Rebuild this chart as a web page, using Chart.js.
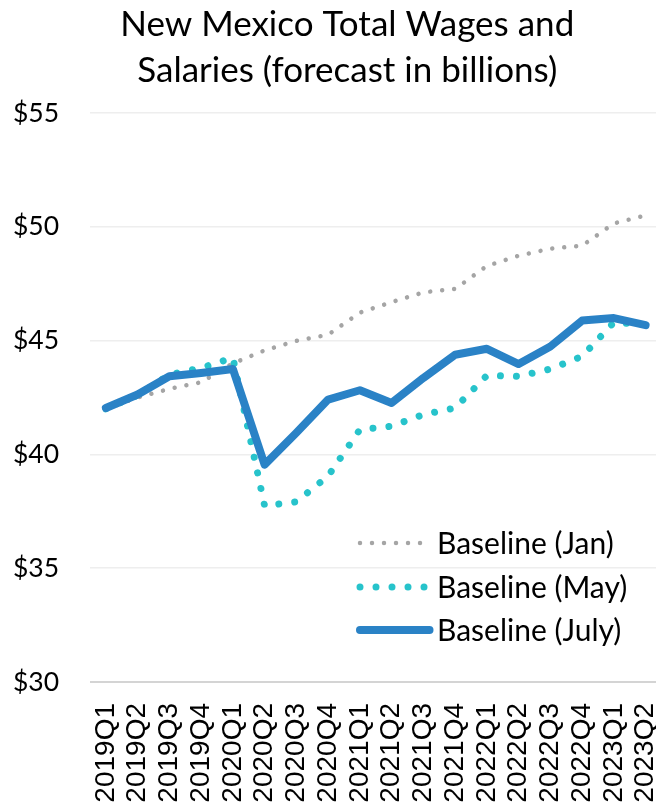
<!DOCTYPE html>
<html><head><meta charset="utf-8">
<script src="https://cdn.jsdelivr.net/npm/chart.js@4.4.0/dist/chart.umd.min.js"></script>
<style>
html,body{margin:0;padding:0;overflow:hidden;background:#fff;width:656px;height:807px;}
#wrap{position:relative;width:692px;height:807px;}
canvas{display:block;}
</style></head>
<body><div id="wrap"><canvas id="c" width="692" height="807"></canvas></div>
<script>
const categories = ['2019Q1','2019Q2','2019Q3','2019Q4','2020Q1','2020Q2','2020Q3','2020Q4','2021Q1','2021Q2','2021Q3','2021Q4','2022Q1','2022Q2','2022Q3','2022Q4','2023Q1','2023Q2'];
const janValues  = [42.0, 42.5, 42.88, 43.17, 44.0, 44.57, 44.99, 45.26, 46.23, 46.69, 47.12, 47.27, 48.28, 48.73, 49.04, 49.17, 50.15, 50.5];
const mayValues  = [42.0, 42.6, 43.5, 43.8, 44.25, 37.74, 37.92, 39.05, 41.09, 41.24, 41.75, 42.04, 43.47, 43.43, 43.75, 44.31, 45.8, 45.7];
const julyValues = [42.04, 42.63, 43.43, 43.58, 43.75, 39.55, 40.95, 42.41, 42.82, 42.26, 43.36, 44.38, 44.64, 43.97, 44.74, 45.88, 45.99, 45.68];
const seriesNames = ['Baseline (Jan)', 'Baseline (May)', 'Baseline (July)'];
const yMin = 30, yMax = 55, yStep = 5;
const titleLines = ['New Mexico Total Wages and', 'Salaries (forecast in billions)'];

const titleShift = {
  id: 'titleShift',
  afterLayout(chart) {
    const t = chart.titleBlock;
    if (t) { t.left += 20; }
  }
};

const insideLegend = {
  id: 'insideLegend',
  afterDraw(chart) {
    const {ctx, chartArea} = chart;
    const rowOffsets = [139, 95, 52];
    const sx0 = chartArea.right - 301.5, sx1 = chartArea.right - 235;
    const tx = chartArea.right - 224.5;
    chart.data.datasets.forEach((ds, i) => {
      const y = chartArea.bottom - rowOffsets[i];
      ctx.save();
      ctx.strokeStyle = ds.borderColor;
      ctx.lineWidth = ds.borderWidth;
      ctx.lineCap = ds.borderCapStyle || 'butt';
      ctx.setLineDash(ds.borderDash || []);
      ctx.beginPath();
      if (ds.borderDash && ds.borderDash.length) {
        ctx.moveTo(sx0, y); ctx.lineTo(sx1 + 2, y);
      } else {
        ctx.moveTo(sx0, y); ctx.lineTo(sx1 + 3, y);
      }
      ctx.stroke();
      ctx.restore();
      ctx.save();
      ctx.font = '30px Lato';
      ctx.fillStyle = '#000';
      ctx.textBaseline = 'middle';
      ctx.textAlign = 'left';
      ctx.fillText(ds.label, tx, y + 1);
      ctx.restore();
    });
  }
};

new Chart(document.getElementById('c'), {
  type: 'line',
  data: {
    labels: categories,
    datasets: [
      { label: seriesNames[0], data: janValues, borderColor: '#a5a5a5', borderWidth: 4.5, borderDash: [0.001, 12], borderCapStyle: 'round', pointRadius: 0, tension: 0, fill: false, order: 3 },
      { label: seriesNames[1], data: mayValues, borderColor: '#27c3cb', borderWidth: 7, borderDash: [0.001, 16], borderCapStyle: 'round', pointRadius: 0, tension: 0, fill: false, order: 2 },
      { label: seriesNames[2], data: julyValues, borderColor: '#2a82c6', borderWidth: 8, borderCapStyle: 'round', borderJoinStyle: 'round', pointRadius: 0, tension: 0, fill: false, order: 1 }
    ]
  },
  options: {
    responsive: false,
    devicePixelRatio: 1,
    animation: false,
    layout: { padding: { left: 13, right: 30.5, top: 0, bottom: 0 } },
    plugins: {
      legend: { display: false },
      tooltip: { enabled: false },
      title: {
        display: true,
        text: titleLines,
        color: '#000',
        font: { family: 'Lato', size: 35, weight: 'normal', lineHeight: '46.5px' },
        padding: { top: 1, bottom: 19 }
      }
    },
    scales: {
      x: {
        type: 'category',
        offset: true,
        grid: { display: false, drawTicks: false },
        border: { display: false },
        ticks: { color: '#000', font: { family: 'Liberation Sans', size: 28 }, minRotation: 90, maxRotation: 90, autoSkip: false, padding: 21 },
        afterFit: (s) => { s.height = 125; s.paddingLeft = 0; s.paddingRight = 0; }
      },
      y: {
        min: yMin, max: yMax,
        border: { display: false },
        grid: {
          drawTicks: false,
          color: (c) => (c.tick && c.tick.value === yMin) ? '#d4d4d4' : '#eeeeee',
          lineWidth: (c) => (c.tick && c.tick.value === yMin) ? 2 : 1.5
        },
        ticks: { stepSize: yStep, color: '#000', font: { family: 'Lato', size: 26.5 }, crossAlign: 'far', padding: 0, callback: (v) => '$' + v },
        afterFit: (s) => { s.width = 77; s.paddingTop = 0; s.paddingBottom = 0; }
      }
    }
  },
  plugins: [titleShift, insideLegend]
});
</script>
</body></html>
